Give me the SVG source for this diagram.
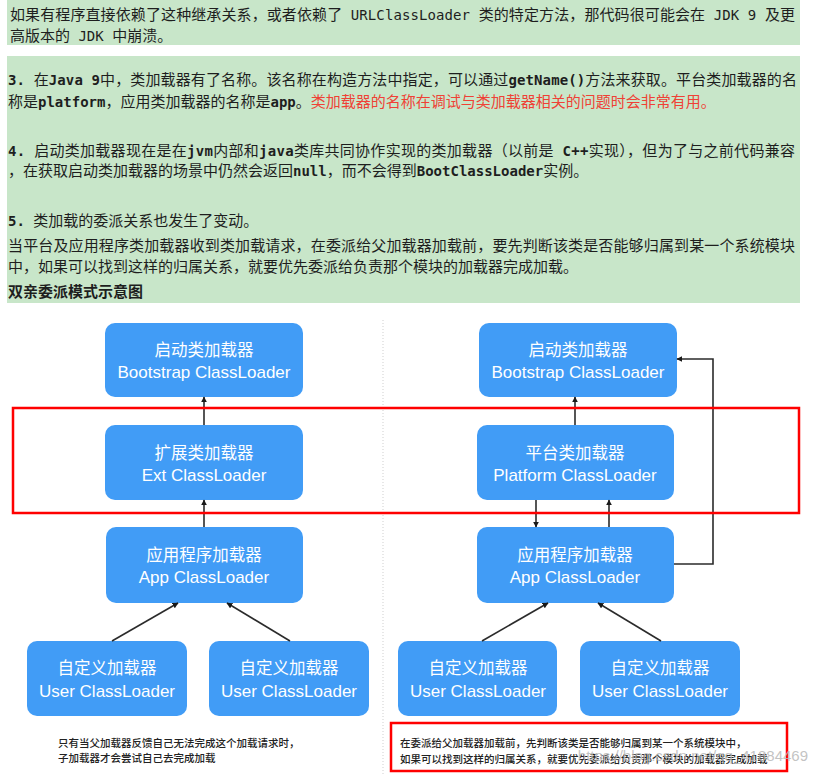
<svg xmlns="http://www.w3.org/2000/svg" width="816" height="774" viewBox="0 0 816 774">
<style>
.panel{fill:#c8e6c9}
.t{font-family:"Noto Sans CJK SC","Liberation Sans",sans-serif;font-size:15px;fill:#1e1e1e}
.m{font-family:"DejaVu Sans Mono","Liberation Mono",monospace;font-weight:bold;font-size:14px}
.mr{font-family:"DejaVu Sans Mono","Liberation Mono",monospace;font-size:14px}
.red{fill:#ef4135}
.box{fill:#419cf6}
.cn{font-family:"Noto Sans CJK SC",sans-serif;font-size:16.5px;fill:#fff;text-anchor:middle}
.en{font-family:"Liberation Sans","Noto Sans CJK SC",sans-serif;font-size:17px;fill:#fff;text-anchor:middle}
.ln{stroke:#2b2b2b;stroke-width:1.6;fill:none}
.hl{fill:none;stroke:#f00;stroke-width:2.5}
.note{font-family:"Noto Sans CJK SC",sans-serif;font-size:10.5px;font-weight:500;fill:#222}
</style>
<defs>
<marker id="ah" viewBox="0 0 10 10" refX="9" refY="5" markerWidth="6" markerHeight="6" orient="auto" markerUnits="userSpaceOnUse">
<path d="M0,0 L10,5 L0,10 z" fill="#1a1a1a"/>
</marker>
</defs>
<rect width="816" height="774" fill="#fff"/>
<g id="text-panel-1">
<rect class="panel" x="7" y="0" width="793" height="45"/>
<text class="t" x="10" y="20" textLength="785" lengthAdjust="spacing">如果有程序直接依赖了这种继承关系，或者依赖了<tspan class="mr"> URLClassLoader </tspan>类的特定方法，那代码很可能会在<tspan class="mr"> JDK 9 </tspan>及更</text>
<text class="t" x="10" y="41">高版本的<tspan class="mr"> JDK </tspan>中崩溃。</text>
</g>
<g id="text-panel-2">
<rect class="panel" x="7" y="56" width="793" height="247"/>
<text class="t" x="8" y="85" textLength="789" lengthAdjust="spacing"><tspan class="m">3. </tspan>在<tspan class="m">Java 9</tspan>中，类加载器有了名称。该名称在构造方法中指定，可以通过<tspan class="m">getName()</tspan>方法来获取。平台类加载器的名</text>
<text class="t" x="8" y="107">称是<tspan class="m">platform</tspan>，应用类加载器的名称是<tspan class="m">app</tspan>。<tspan class="red">类加载器的名称在调试与类加载器相关的问题时会非常有用。</tspan></text>
<text class="t" x="8" y="156" textLength="787" lengthAdjust="spacing"><tspan class="m">4. </tspan>启动类加载器现在是在<tspan class="m">jvm</tspan>内部和<tspan class="m">java</tspan>类库共同协作实现的类加载器（以前是<tspan class="m"> C++</tspan>实现），但为了与之前代码兼容</text>
<text class="t" x="8" y="176">，在获取启动类加载器的场景中仍然会返回<tspan class="m">null</tspan>，而不会得到<tspan class="m">BootClassLoader</tspan>实例。</text>
<text class="t" x="8" y="226"><tspan class="m">5. </tspan>类加载的委派关系也发生了变动。</text>
<text class="t" x="8" y="251" textLength="787" lengthAdjust="spacing">当平台及应用程序类加载器收到类加载请求，在委派给父加载器加载前，要先判断该类是否能够归属到某一个系统模块</text>
<text class="t" x="8" y="272">中，如果可以找到这样的归属关系，就要优先委派给负责那个模块的加载器完成加载。</text>
<text class="t" x="8" y="297" font-weight="bold">双亲委派模式示意图</text>
</g>
<line x1="383" y1="320" x2="383" y2="774" stroke="#cfcfcf" stroke-width="1" stroke-dasharray="1 2"/>
<g id="left-bootstrap"><rect class="box" x="105" y="323" width="198" height="74" rx="10"/><text class="cn" x="204" y="356">启动类加载器</text><text class="en" x="204" y="378">Bootstrap ClassLoader</text></g>
<g id="left-ext"><rect class="box" x="105" y="425" width="198" height="75" rx="10"/><text class="cn" x="204" y="459">扩展类加载器</text><text class="en" x="204" y="481">Ext ClassLoader</text></g>
<g id="left-app"><rect class="box" x="106" y="527" width="197" height="76" rx="10"/><text class="cn" x="204" y="561">应用程序加载器</text><text class="en" x="204" y="583">App ClassLoader</text></g>
<g id="left-user1"><rect class="box" x="27" y="641" width="160" height="75" rx="10"/><text class="cn" x="107" y="674">自定义加载器</text><text class="en" x="107" y="697">User ClassLoader</text></g>
<g id="left-user2"><rect class="box" x="209" y="641" width="160" height="75" rx="10"/><text class="cn" x="289" y="674">自定义加载器</text><text class="en" x="289" y="697">User ClassLoader</text></g>
<g id="right-bootstrap"><rect class="box" x="479" y="323" width="198" height="74" rx="10"/><text class="cn" x="578" y="356">启动类加载器</text><text class="en" x="578" y="378">Bootstrap ClassLoader</text></g>
<g id="right-platform"><rect class="box" x="477" y="425" width="197" height="75" rx="10"/><text class="cn" x="575" y="459">平台类加载器</text><text class="en" x="575" y="481">Platform ClassLoader</text></g>
<g id="right-app"><rect class="box" x="477" y="527" width="197" height="76" rx="10"/><text class="cn" x="575" y="561">应用程序加载器</text><text class="en" x="575" y="583">App ClassLoader</text></g>
<g id="right-user1"><rect class="box" x="398" y="641" width="159" height="75" rx="10"/><text class="cn" x="478" y="674">自定义加载器</text><text class="en" x="478" y="697">User ClassLoader</text></g>
<g id="right-user2"><rect class="box" x="580" y="641" width="160" height="75" rx="10"/><text class="cn" x="660" y="674">自定义加载器</text><text class="en" x="660" y="697">User ClassLoader</text></g>
<g id="connectors">
<line class="ln" x1="204" y1="425" x2="204" y2="397" marker-end="url(#ah)"/>
<line class="ln" x1="204" y1="527" x2="204" y2="500" marker-end="url(#ah)"/>
<line class="ln" x1="112" y1="641" x2="178" y2="603" marker-end="url(#ah)"/>
<line class="ln" x1="290" y1="641" x2="227" y2="603" marker-end="url(#ah)"/>
<line class="ln" x1="575" y1="425" x2="575" y2="397" marker-end="url(#ah)"/>
<line class="ln" x1="536" y1="500" x2="536" y2="527" marker-end="url(#ah)"/>
<line class="ln" x1="609" y1="527" x2="609" y2="500" marker-end="url(#ah)"/>
<polyline class="ln" points="674,564 713,564 713,359 677,359" marker-end="url(#ah)"/>
<line class="ln" x1="482" y1="641" x2="548" y2="603" marker-end="url(#ah)"/>
<line class="ln" x1="661" y1="641" x2="598" y2="603" marker-end="url(#ah)"/>
</g>
<rect class="hl" x="13" y="408" width="786" height="105"/>
<rect class="hl" x="391" y="723" width="396" height="48"/>
<g id="notes">
<text class="note" x="58" y="747">只有当父加载器反馈自己无法完成这个加载请求时，</text>
<text class="note" x="58" y="762">子加载器才会尝试自己去完成加载</text>
<text class="note" x="400" y="747">在委派给父加载器加载前，先判断该类是否能够归属到某一个系统模块中，</text>
<text class="note" x="400" y="763">如果可以找到这样的归属关系，就要优先委派给负责那个模块的加载器完成加载</text>
<text x="808" y="761" text-anchor="end" font-family="Liberation Sans,sans-serif" font-size="15" fill="#b8b8b8" fill-opacity="0.85">https://blog.csdn.net/qq_41884469</text>
</g>
</svg>
